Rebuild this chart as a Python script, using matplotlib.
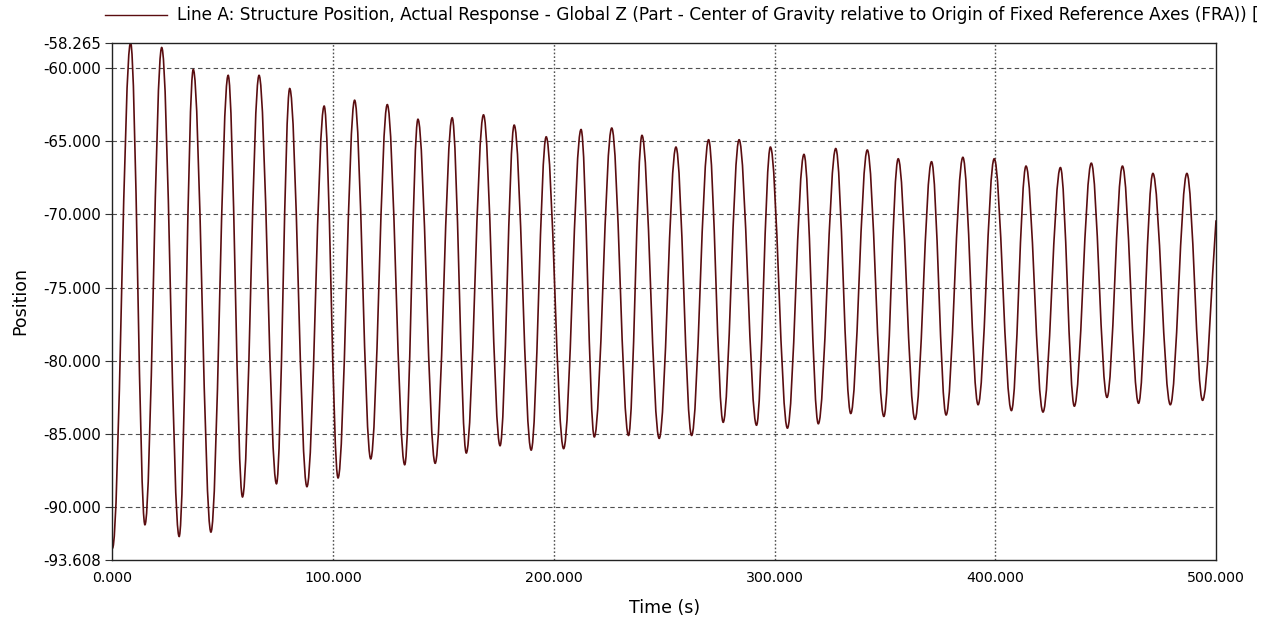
import matplotlib
matplotlib.use("Agg")
import matplotlib.pyplot as plt
from matplotlib.path import Path
from matplotlib.patches import PathPatch

# extremes of the response (time in s, position)
time_s = [0.0, 8.2, 14.7, 22.3, 30.2, 36.6, 44.6, 52.4, 58.9, 66.4, 74.3,
          80.3, 88.1, 95.9, 102.2, 109.7, 117.0, 124.5, 132.4, 138.4, 146.2,
          153.9, 160.3, 168.1, 175.6, 182.0, 189.7, 196.5, 204.4, 212.3, 218.3,
          226.2, 233.8, 239.9, 247.7, 255.3, 262.4, 270.1, 276.7, 283.9, 291.8,
          298.1, 305.8, 313.3, 319.8, 327.7, 334.5, 342.0, 349.5, 356.0, 363.6,
          371.1, 377.7, 385.3, 392.2, 399.5, 407.3, 413.9, 421.6, 429.5, 435.8,
          443.5, 450.6, 457.6, 464.9, 471.4, 479.3, 486.8, 493.9, 500.0]
position = [-92.8, -58.27, -91.2, -58.6, -92.0, -60.1, -91.7, -60.5, -89.3, -60.5, -88.4,
            -61.4, -88.6, -62.6, -88.0, -62.2, -86.7, -62.5, -87.1, -63.5, -87.0,
            -63.4, -86.3, -63.2, -85.8, -63.9, -86.1, -64.7, -86.0, -64.2, -85.2,
            -64.1, -85.1, -64.6, -85.3, -65.4, -85.1, -64.9, -84.2, -64.9, -84.4,
            -65.4, -84.6, -65.9, -84.3, -65.5, -83.6, -65.6, -83.8, -66.2, -84.0,
            -66.4, -83.7, -66.1, -83.0, -66.2, -83.4, -66.7, -83.5, -66.8, -83.1,
            -66.5, -82.5, -66.7, -82.9, -67.2, -83.0, -67.2, -82.7, -70.4]

y_ticks = [-58.265, -60, -65, -70, -75, -80, -85, -90, -93.608]
y_grid = [-60, -65, -70, -75, -80, -85, -90]
x_ticks = [0, 100, 200, 300, 400, 500]
x_grid = [100, 200, 300, 400]

legend_text = ("Line A: Structure Position, Actual Response - Global Z (Part - Center of "
               "Gravity relative to Origin of Fixed Reference Axes (FRA)) [")

line_color = "#5a0d10"
plt.rcParams['font.family'] = ['DejaVu Sans']

fig = plt.figure(figsize=(12.74, 6.28), dpi=100)
ax = fig.add_axes([0.0883, 0.1083, 0.8662, 0.8238])

# smooth the line between the extremes with cubic curves (flat at each turn)
k = 0.36
verts = [(time_s[0], position[0])]
codes = [Path.MOVETO]
for i in range(1, len(time_s)):
    t0, t1 = time_s[i - 1], time_s[i]
    y0, y1 = position[i - 1], position[i]
    d = t1 - t0
    if i == len(time_s) - 1:
        c2 = (t1 - d / 3, y1 - (y1 - y0) / 3)
    else:
        c2 = (t1 - k * d, y1)
    verts += [(t0 + k * d, y0), c2, (t1, y1)]
    codes += [Path.CURVE4] * 3
ax.add_patch(PathPatch(Path(verts, codes), fill=False, edgecolor=line_color, lw=1.2))

ax.set_xlim(0, 500)
ax.set_ylim(-93.608, -58.265)

for g in y_grid:
    ax.axhline(g, color="#505050", lw=0.8, ls=(0, (4, 3)), zorder=0)
for g in x_grid:
    ax.axvline(g, color="#505050", lw=1.0, ls=(0, (1.2, 1.5)), zorder=0)

ax.set_yticks(y_ticks)
ax.set_yticklabels(["%.3f" % v for v in y_ticks])
ax.set_xticks(x_ticks)
ax.set_xticklabels(["%.3f" % v for v in x_ticks])
ax.tick_params(axis='y', length=5, width=0.8, color="#333333", labelsize=10.8, pad=3)
ax.tick_params(axis='x', length=0, labelsize=10.2, pad=8)

for sp in ax.spines.values():
    sp.set_color("#222222")
    sp.set_linewidth(1.0)

ax.set_xlabel("Time (s)", fontsize=12.5, labelpad=10)
ax.set_ylabel("Position", fontsize=12.5, labelpad=10)

# legend drawn across the top, ending at the right edge like the original
fig.add_artist(plt.Line2D([105 / 1274, 167 / 1274], [1 - 15 / 628, 1 - 15 / 628],
                          color=line_color, lw=1.0))
fig.text(177 / 1274, 1 - 15 / 628, legend_text, fontsize=12.2, va='center', ha='left')

fig.savefig("out.png", dpi=100)
